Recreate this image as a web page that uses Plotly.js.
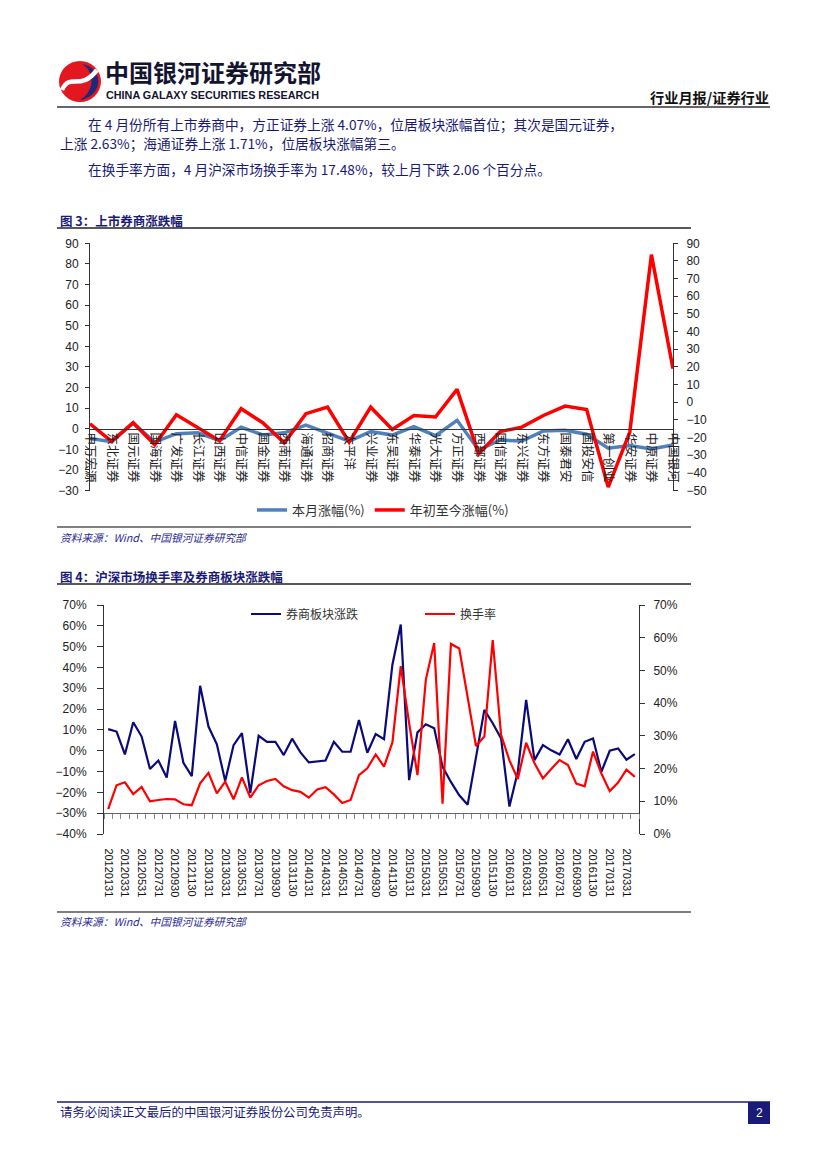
<!DOCTYPE html>
<html><head><meta charset="utf-8">
<script src="https://cdn.plot.ly/plotly-3.0.1.min.js"></script>
<style>html,body{margin:0;padding:0;background:#fff;}#page{width:827px;height:1169px;}</style>
</head><body><div id="page"></div>
<script>
// ---------- Figure 3 data ----------
const brokers = ['申万宏源','东北证券','国元证券','国海证券','广发证券','长江证券','山西证券','中信证券','国金证券','西南证券','海通证券','招商证券','太平洋','兴业证券','东吴证券','华泰证券','光大证券','方正证券','西部证券','国信证券','东兴证券','东方证券','国泰君安','国投安信','第一创业','华安证券','中原证券','中国银河'];
const monthChg = [-4.7,-6.3,2.63,-6.5,-2.4,-2.0,-5.8,0.7,-3.0,-2.0,1.71,-2.0,-6.0,-1.4,-3.1,1.0,-3.4,4.07,-10.3,-5.5,-6.0,-1.1,-0.8,-2.7,-9.5,-8.2,-9.8,-7.9];
const ytdChg = [-12.2,-22.2,-11.6,-24.1,-7.1,-14.7,-21.8,-3.7,-11.6,-23.0,-6.5,-2.8,-22.6,-2.8,-15.4,-7.5,-8.4,7.3,-29.2,-16.6,-14.1,-7.5,-2.2,-4.1,-48.1,-16.9,83.6,19.0];

// ---------- Figure 4 data ----------
const dates = ['20120131','20120229','20120331','20120430','20120531','20120630','20120731','20120831','20120930','20121031','20121130','20121231',
'20130131','20130228','20130331','20130430','20130531','20130630','20130731','20130831','20130930','20131031','20131130','20131231',
'20140131','20140228','20140331','20140430','20140531','20140630','20140731','20140831','20140930','20141031','20141130','20141231',
'20150131','20150228','20150331','20150430','20150531','20150630','20150731','20150831','20150930','20151031','20151130','20151231',
'20160131','20160229','20160331','20160430','20160531','20160630','20160731','20160831','20160930','20161031','20161130','20161231',
'20170131','20170228','20170331','20170430'];
const sectorChg = [10.4,9.2,-1.8,13.7,6.8,-8.8,-4.7,-12.9,14.3,-5.8,-12.2,31.2,11.6,3.1,-14.6,2.7,
8.4,-20.3,7.2,4.3,4.3,-2.1,5.8,-0.8,-5.6,-5.0,-4.7,4.3,-0.5,-0.5,14.8,-1.0,
8.0,5.6,41.3,60.6,-14.1,8.8,12.7,10.8,-7.7,-15.0,-21.4,-25.9,-4.0,19.6,13.2,5.9,
-26.8,-10.1,24.4,-4.5,2.7,0.2,-1.8,5.5,-4.0,4.3,5.9,-10.1,0.0,1.1,-4.3,-1.6];
const turnover = [7.6,14.9,15.8,12.2,14.4,10.0,10.4,10.7,10.6,9.1,8.8,15.5,18.7,12.4,16.0,10.6,
17.3,11.1,14.9,16.2,16.8,14.6,13.4,12.9,11.1,13.6,14.3,12.1,9.5,10.4,18.0,20.1,
24.3,20.6,28.0,51.3,33.9,18.0,47.2,58.4,9.3,58.1,56.7,41.6,26.9,29.8,59.3,30.3,
22.5,16.8,27.9,21.6,17.0,19.9,22.6,21.1,15.4,14.6,25.2,18.5,13.1,15.7,19.7,17.48];

// ---------- page geometry ----------
const W = 827, H = 1169;
const px = x => x / W, py = y => 1 - y / H;
const P = (x, y) => px(x) + ',' + py(y);

const NAVY = '#1a1a78';
const CJK = 'Noto Sans CJK SC, Liberation Sans, sans-serif';
const ARIAL = 'Liberation Sans, Arial, Noto Sans CJK SC, sans-serif';

// chart 3 plot area
const c3 = {l: 90, r: 673, t: 243.3, b: 490.5, yr: [-30, 90], y2r: [-50, 90]};
const c3pos = py(c3.b) + (0 - c3.yr[0]) / (c3.yr[1] - c3.yr[0]) * (py(c3.t) - py(c3.b));
// chart 4 plot area
const c4 = {l: 104, r: 639, t: 605, b: 834, yr: [-40, 70], y2r: [0, 70]};
const c4pos = py(c4.b) + (-30 - c4.yr[0]) / (c4.yr[1] - c4.yr[0]) * (py(c4.t) - py(c4.b));

const idx = dates.map((_, i) => i);
const labelIdx = idx.filter(i => i % 2 === 0);
const labelTxt = labelIdx.map(i => dates[i]);
const bounds = [];
for (let i = 0; i <= dates.length; i++) bounds.push(i - 0.5);

const traces = [
  {x: brokers, y: monthChg, type: 'scatter', mode: 'lines', name: '本月涨幅(%)', xaxis: 'x', yaxis: 'y',
   line: {color: '#4F81BD', width: 3.5}, legend: 'legend'},
  {x: brokers, y: ytdChg, type: 'scatter', mode: 'lines', name: '年初至今涨幅(%)', xaxis: 'x', yaxis: 'y2',
   line: {color: '#FF0000', width: 3.5}, legend: 'legend'},
  {x: idx, y: sectorChg, type: 'scatter', mode: 'lines', name: '券商板块涨跌', xaxis: 'x2', yaxis: 'y3',
   line: {color: '#0a0a78', width: 2.2}, legend: 'legend2'},
  {x: idx, y: turnover, type: 'scatter', mode: 'lines', name: '换手率', xaxis: 'x2', yaxis: 'y4',
   line: {color: '#FF0000', width: 2.2}, legend: 'legend3'}
];

const yBase = {showgrid: false, zeroline: false, showline: true, linecolor: '#333', linewidth: 1,
  ticks: 'outside', ticklen: 4, tickcolor: '#333', dtick: 10, fixedrange: true,
  tickfont: {family: ARIAL, size: 12, color: '#222'}};

const ann = (x, y, text, o) => Object.assign({x: px(x), y: py(y), xref: 'paper', yref: 'paper', text: text,
  showarrow: false, xanchor: 'left', yanchor: 'middle', font: {family: CJK, size: 13, color: NAVY}}, o || {});
const hline = (x0, x1, y, color, w) => ({type: 'line', xref: 'paper', yref: 'paper', x0: px(x0), x1: px(x1), y0: py(y), y1: py(y), line: {color: color, width: w}});

const layout = {
  width: W, height: H, margin: {l: 0, r: 0, t: 0, b: 0},
  paper_bgcolor: '#fff', plot_bgcolor: 'rgba(0,0,0,0)',
  font: {family: ARIAL, size: 12, color: '#222'},
  showlegend: true,
  xaxis: {domain: [px(c3.l), px(c3.r)], anchor: 'free', position: c3pos, type: 'category',
    showline: true, linecolor: '#333', linewidth: 1.3, ticks: '', tickangle: 90, dtick: 1,
    showgrid: false, zeroline: false, fixedrange: true,
    tickfont: {family: CJK, size: 12.5, color: '#222'}},
  yaxis: Object.assign({}, yBase, {domain: [py(c3.b), py(c3.t)], anchor: 'x', range: c3.yr, ticklabelstandoff: 4}),
  yaxis2: Object.assign({}, yBase, {overlaying: 'y', side: 'right', anchor: 'x', range: c3.y2r, ticklabelstandoff: 6}),
  xaxis2: {domain: [px(c4.l), px(c4.r)], anchor: 'free', position: c4pos, range: [-0.5, dates.length - 0.5],
    showline: true, linecolor: '#666', linewidth: 1, showgrid: false, zeroline: false, fixedrange: true,
    tickmode: 'array', tickvals: labelIdx, ticktext: labelTxt, ticks: '', tickangle: 90, ticklabelstandoff: 32,
    minor: {tickmode: 'array', tickvals: bounds, ticks: 'outside', ticklen: 5, tickcolor: '#888', tickwidth: 1},
    tickfont: {family: ARIAL, size: 11, color: '#111'}},
  yaxis3: Object.assign({}, yBase, {domain: [py(c4.b), py(c4.t)], anchor: 'x2', range: c4.yr, ticksuffix: '%',
    ticklen: 6, ticklabelstandoff: 8}),
  yaxis4: Object.assign({}, yBase, {overlaying: 'y3', side: 'right', anchor: 'x2', range: c4.y2r, ticksuffix: '%',
    ticklen: 5, ticklabelstandoff: 6}),
  legend: {orientation: 'h', x: px(383), y: py(510), xanchor: 'center', yanchor: 'middle',
    bgcolor: 'rgba(0,0,0,0)', font: {family: CJK, size: 13, color: '#333'}},
  legend2: {orientation: 'h', x: px(246), y: py(614), xanchor: 'left', yanchor: 'middle',
    bgcolor: 'rgba(0,0,0,0)', font: {family: CJK, size: 12, color: '#333'}},
  legend3: {orientation: 'h', x: px(420), y: py(614), xanchor: 'left', yanchor: 'middle',
    bgcolor: 'rgba(0,0,0,0)', font: {family: CJK, size: 12, color: '#333'}},
  shapes: [
    // logo
    {type: 'circle', xref: 'paper', yref: 'paper', x0: px(59), x1: px(101), y0: py(102), y1: py(61),
      fillcolor: '#e3171f', line: {width: 0}},
    {type: 'path', xref: 'paper', yref: 'paper',
      path: 'M' + P(82, 64) + ' C' + P(104, 68) + ' ' + P(104, 96) + ' ' + P(80, 100) + ' C' + P(94, 92) + ' ' + P(96, 72) + ' ' + P(82, 64) + ' Z',
      fillcolor: '#1b2a7c', line: {width: 0}},
    {type: 'path', xref: 'paper', yref: 'paper',
      path: 'M' + P(62, 90) + ' C' + P(70, 72) + ' ' + P(80, 92) + ' ' + P(97, 70),
      line: {color: '#ffffff', width: 4.5}},
    hline(57, 770, 107, '#333', 1.5),
    hline(57, 691, 228, '#222', 1.5),
    hline(57, 691, 527, '#555', 1.6),
    hline(57, 691, 584, '#222', 1.5),
    hline(57, 691, 912, '#555', 1.6),
    hline(57, 770, 1102, NAVY, 1.6),
    {type: 'rect', xref: 'paper', yref: 'paper', x0: px(748), x1: px(770), y0: py(1124), y1: py(1102),
      fillcolor: NAVY, line: {width: 0}}
  ],
  annotations: [
    ann(103, 72, '<b>中国银河证券研究部</b>', {font: {family: CJK, size: 24, color: '#141430'}}),
    ann(104, 94.5, '<b>CHINA GALAXY SECURITIES RESEARCH</b>', {font: {family: ARIAL, size: 10.8, color: '#141430'}}),
    ann(771, 97, '<b>行业月报/证券行业</b>', {xanchor: 'right', font: {family: CJK, size: 14.2, color: '#111'}}),
    ann(86, 124, '在 4 月份所有上市券商中，方正证券上涨 4.07%，位居板块涨幅首位；其次是国元证券，', {font: {family: CJK, size: 13.7, color: NAVY}}),
    ann(58, 143, '上涨 2.63%；海通证券上涨 1.71%，位居板块涨幅第三。', {font: {family: CJK, size: 13.7, color: NAVY}}),
    ann(86, 169, '在换手率方面，4 月沪深市场换手率为 17.48%，较上月下跌 2.06 个百分点。', {font: {family: CJK, size: 13.7, color: NAVY}}),
    ann(58, 220, '<b>图 3：上市券商涨跌幅</b>', {font: {family: CJK, size: 12.5, color: NAVY}}),
    ann(58, 537, '<i>资料来源：Wind、中国银河证券研究部</i>', {font: {family: CJK, size: 10.7, color: '#2a2a90'}}),
    ann(58, 576, '<b>图 4：沪深市场换手率及券商板块涨跌幅</b>', {font: {family: CJK, size: 12.5, color: NAVY}}),
    ann(58, 921, '<i>资料来源：Wind、中国银河证券研究部</i>', {font: {family: CJK, size: 10.7, color: '#2a2a90'}}),
    ann(58, 1112, '请务必阅读正文最后的中国银河证券股份公司免责声明。', {font: {family: CJK, size: 12.4, color: NAVY}}),
    ann(759, 1113, '2', {xanchor: 'center', font: {family: ARIAL, size: 12, color: '#ffffff'}})
  ]
};

Plotly.newPlot('page', traces, layout, {staticPlot: true, displayModeBar: false});
</script>
</body></html>
